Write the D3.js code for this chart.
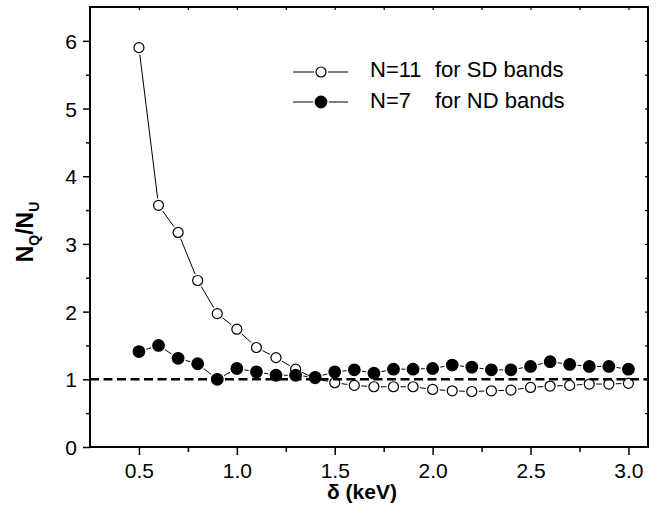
<!DOCTYPE html>
<html>
<head>
	<meta charset="utf-8">
	<script src="https://cdn.jsdelivr.net/npm/d3@7/dist/d3.min.js"></script>
	<style type="text/css">
		body{
			margin: 0;
			padding: 0;
			background: #fff;
		}
		svg{
			display: block;
			font-family: "Liberation Sans", Arial, sans-serif;
		}
	</style>
</head>
<body>
	<svg id="svg" width="665" height="514"></svg>
<script type="text/javascript">
	// delta (keV)
	let delta = [0.5,0.6,0.7,0.8,0.9,1.0,1.1,1.2,1.3,1.4,1.5,1.6,1.7,1.8,1.9,2.0,2.1,2.2,2.3,2.4,2.5,2.6,2.7,2.8,2.9,3.0];
	// N=11 for SD bands (open circles)
	let sdRatio = [5.9,3.57,3.17,2.46,1.97,1.74,1.47,1.32,1.15,1.01,0.95,0.91,0.89,0.89,0.89,0.85,0.83,0.82,0.83,0.84,0.88,0.9,0.91,0.93,0.93,0.94];
	// N=7 for ND bands (filled circles)
	let ndRatio = [1.41,1.5,1.31,1.23,1.0,1.16,1.11,1.06,1.06,1.03,1.11,1.14,1.09,1.15,1.15,1.16,1.21,1.18,1.14,1.14,1.19,1.26,1.22,1.19,1.19,1.15];
	let xTicks = [0.5,1.0,1.5,2.0,2.5,3.0];
	let yTicks = [0,1,2,3,4,5,6];
	let legendNames = ['N=11','N=7'];
	let legendTails = ['for SD bands','for ND bands'];
	let refLevel = 1;

	let svg = d3.select('#svg');
	let plotL = 90, plotR = 648, plotT = 7, plotB = 447;

	let x = d3.scaleLinear().domain([0.25,3.1]).range([plotL,plotR]);
	let y = d3.scaleLinear().domain([0,6.5]).range([plotB,plotT]);

	let xMinor = d3.range(0.5,3.01,0.25);
	let yMinor = d3.range(0.5,6.5,1);

	// bottom axis
	svg.append('g')
		.attr('transform','translate(0,'+plotB+')')
		.call(d3.axisBottom(x).tickValues(xTicks).tickFormat(d3.format('.1f')).tickSize(8).tickSizeOuter(0))
		.call(g=>{
			g.select('.domain').remove();
			g.selectAll('line').attr('stroke','#000').attr('stroke-width',1.5);
			g.selectAll('text').attr('font-size','21px').attr('fill','#000').attr('dy','0').attr('y',31).attr('font-family','"Liberation Sans", Arial, sans-serif');
		});
	svg.append('g')
		.attr('transform','translate(0,'+plotB+')')
		.call(d3.axisBottom(x).tickValues(xMinor.filter(v=>xTicks.indexOf(v)<0)).tickFormat('').tickSize(5))
		.call(g=>{
			g.select('.domain').remove();
			g.selectAll('line').attr('stroke','#000').attr('stroke-width',1.5);
		});

	// left axis
	svg.append('g')
		.attr('transform','translate('+plotL+',0)')
		.call(d3.axisLeft(y).tickValues(yTicks).tickFormat(d3.format('d')).tickSize(7).tickSizeOuter(0))
		.call(g=>{
			g.select('.domain').remove();
			g.selectAll('line').attr('stroke','#000').attr('stroke-width',1.5);
			g.selectAll('text').attr('font-size','21px').attr('fill','#000').attr('x',-13).attr('dy','0.36em').attr('font-family','"Liberation Sans", Arial, sans-serif');
		});
	svg.append('g')
		.attr('transform','translate('+plotL+',0)')
		.call(d3.axisLeft(y).tickValues(yMinor).tickFormat('').tickSize(4))
		.call(g=>{
			g.select('.domain').remove();
			g.selectAll('line').attr('stroke','#000').attr('stroke-width',1.5);
		});

	// top and right: tiny inner ticks
	svg.append('g')
		.attr('transform','translate(0,'+plotT+')')
		.call(d3.axisBottom(x).tickValues(xMinor).tickFormat('').tickSize(3))
		.call(g=>{
			g.select('.domain').remove();
			g.selectAll('line').attr('stroke','#000').attr('stroke-width',1.2);
		});
	svg.append('g')
		.attr('transform','translate('+plotR+',0)')
		.call(d3.axisLeft(y).tickValues(d3.range(0.5,6.5,0.5)).tickFormat('').tickSize(3))
		.call(g=>{
			g.select('.domain').remove();
			g.selectAll('line').attr('stroke','#000').attr('stroke-width',1.2);
		});

	// frame
	svg.append('rect')
		.attr('x',plotL).attr('y',plotT)
		.attr('width',plotR-plotL).attr('height',plotB-plotT)
		.style('fill','none').style('stroke','#000').style('stroke-width',2);

	// segments between markers, leaving a small gap round each symbol
	function drawSeries(vals,r,filled){
		let g = svg.append('g');
		let pts = delta.map((d,i)=>[x(d),y(vals[i])]);
		let gap = r+2;
		for(let i=0;i<pts.length-1;i++){
			let [x1,y1] = pts[i], [x2,y2] = pts[i+1];
			let len = Math.hypot(x2-x1,y2-y1);
			if(len<=gap*2) continue;
			let ux = (x2-x1)/len, uy = (y2-y1)/len;
			g.append('line')
				.attr('x1',x1+ux*gap).attr('y1',y1+uy*gap)
				.attr('x2',x2-ux*gap).attr('y2',y2-uy*gap)
				.style('stroke','#000').style('stroke-width',1);
		}
		g.selectAll('circle').data(pts).enter().append('circle')
			.attr('cx',d=>d[0]).attr('cy',d=>d[1]).attr('r',r)
			.style('fill',filled?'#000':'#fff')
			.style('stroke','#000').style('stroke-width',1.2);
	}

	drawSeries(sdRatio,5,false);
	drawSeries(ndRatio,5.8,true);

	// dashed reference line
	svg.append('line')
		.attr('x1',plotL).attr('x2',plotR)
		.attr('y1',y(refLevel)).attr('y2',y(refLevel))
		.style('stroke','#000').style('stroke-width',2.5).style('stroke-dasharray','9,4.5');

	// legend
	let legend = svg.append('g');
	legendNames.forEach((name,i)=>{
		let ly = 72+i*30;
		let cx = 321;
		let r = i===0?5:5.8;
		legend.append('line').attr('x1',293).attr('x2',cx-r-2).attr('y1',ly).attr('y2',ly)
			.style('stroke','#000').style('stroke-width',1);
		legend.append('line').attr('x1',cx+r+2).attr('x2',348).attr('y1',ly).attr('y2',ly)
			.style('stroke','#000').style('stroke-width',1);
		legend.append('circle').attr('cx',cx).attr('cy',ly).attr('r',r)
			.style('fill',i===0?'#fff':'#000').style('stroke','#000').style('stroke-width',1.2);
		legend.append('text').attr('x',370).attr('y',77+i*31).attr('font-size','22px').text(name);
		legend.append('text').attr('x',435).attr('y',77+i*31).attr('font-size','22px').text(legendTails[i]);
	});

	// axis titles
	svg.append('text')
		.attr('x',362).attr('y',499)
		.attr('text-anchor','middle')
		.attr('font-size','21px').attr('font-weight','bold')
		.text('δ (keV)');

	let yt = svg.append('text')
		.attr('transform','translate(33,232) rotate(-90)')
		.attr('text-anchor','middle')
		.attr('font-size','23px').attr('font-weight','bold');
	yt.append('tspan').text('N');
	yt.append('tspan').attr('font-size','14px').attr('dy',6).text('Q');
	yt.append('tspan').attr('dy',-6).text('/N');
	yt.append('tspan').attr('font-size','14px').attr('dy',6).text('U');
</script>
</body>
</html>
